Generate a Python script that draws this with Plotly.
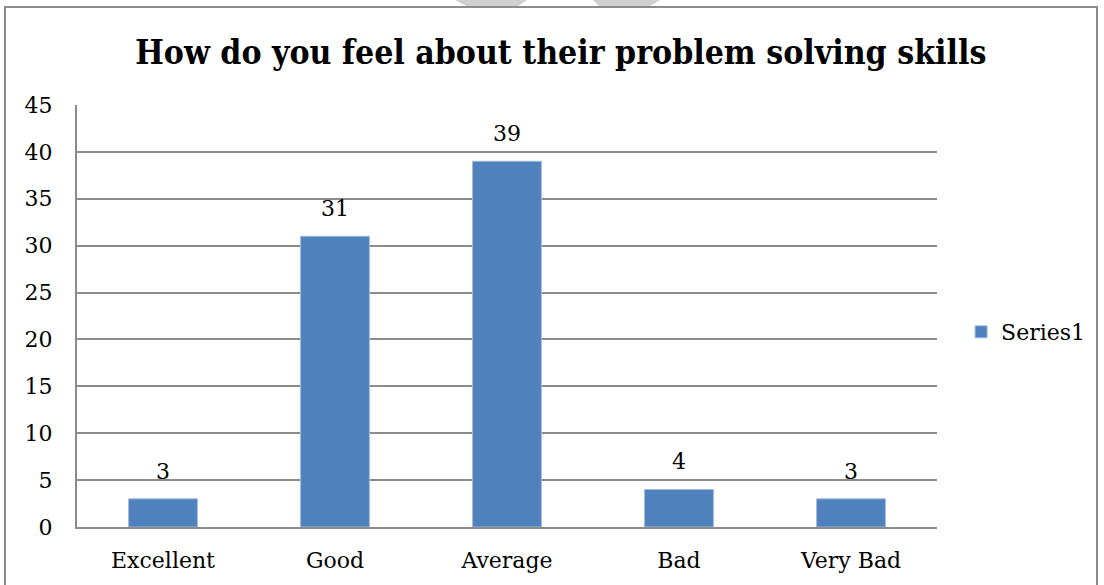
import plotly.graph_objects as go

categories = ["Excellent", "Good", "Average", "Bad", "Very Bad"]
values = [3, 31, 39, 4, 3]
y_ticks = [0, 5, 10, 15, 20, 25, 30, 35, 40, 45]
series_name = "Series1"
title_text = "How do you feel about their problem solving skills"

FONT = "DejaVu Serif"
BAR = "#4F81BD"
GRID = "#8C8C8C"

W, H = 1104, 585
L, R, T, B = 77, 167, 105, 58
PW, PH = W - L - R, H - T - B


def px(x):
    return (x - L) / PW


def py(y):
    return (H - B - y) / PH


fig = go.Figure()
fig.add_trace(go.Bar(
    x=categories, y=values, name=series_name,
    marker=dict(color=BAR, line=dict(color="#9DB9DD", width=1)),
))

for c, v in zip(categories, values):
    fig.add_annotation(x=c, y=v, text=str(v), showarrow=False,
                       yanchor="bottom", yshift=13,
                       font=dict(family=FONT, size=22, color="black"))

fig.update_layout(
    width=W, height=H,
    paper_bgcolor="white", plot_bgcolor="white",
    margin=dict(l=L, r=R, t=T, b=B),
    bargap=0.6,
    showlegend=True,
    title=dict(text="<b>" + title_text + "</b>", x=0.508, xanchor="center",
               y=0.911, yanchor="middle",
               font=dict(family="DejaVu Serif Condensed, " + FONT, size=33.5, color="black")),
    legend=dict(x=1.028, y=0.462, xanchor="left", yanchor="middle",
                bgcolor="rgba(0,0,0,0)",
                font=dict(family=FONT, size=22, color="black"),
                itemwidth=30, traceorder="normal"),
    font=dict(family=FONT, color="black"),
)
fig.update_xaxes(showline=True, linecolor=GRID, linewidth=2,
                 tickfont=dict(family=FONT, size=22, color="black"),
                 ticks="", showgrid=False, ticklabelstandoff=13)
fig.update_yaxes(range=[0, 45], tickvals=y_ticks, showline=True, linecolor=GRID,
                 linewidth=2, showgrid=True, gridcolor=GRID, gridwidth=2,
                 tickfont=dict(family=FONT, size=22, color="black"),
                 ticks="", zeroline=False, ticklabelstandoff=18)

# faint watermark fragments at the top edge
for pts in ([(455, 0), (527, 0), (517, 7), (468, 7)],
            [(593, 0), (660, 0), (648, 7), (600, 7)]):
    path = "M " + " L ".join(f"{px(a)},{py(b)}" for a, b in pts) + " Z"
    fig.add_shape(type="path", xref="paper", yref="paper", path=path,
                  fillcolor="#D0D0D0", line=dict(width=0), layer="below")

# outer chart frame
fig.add_shape(type="rect", xref="paper", yref="paper",
              x0=px(5), x1=px(1097), y0=py(600), y1=py(7),
              line=dict(color=GRID, width=2), fillcolor="rgba(0,0,0,0)", layer="below")

fig.write_html(
    "out.html",
    config={"displayModeBar": False},
    post_script="document.body.style.margin='0';document.body.style.overflow='hidden';"
                "document.documentElement.style.overflow='hidden';",
)
